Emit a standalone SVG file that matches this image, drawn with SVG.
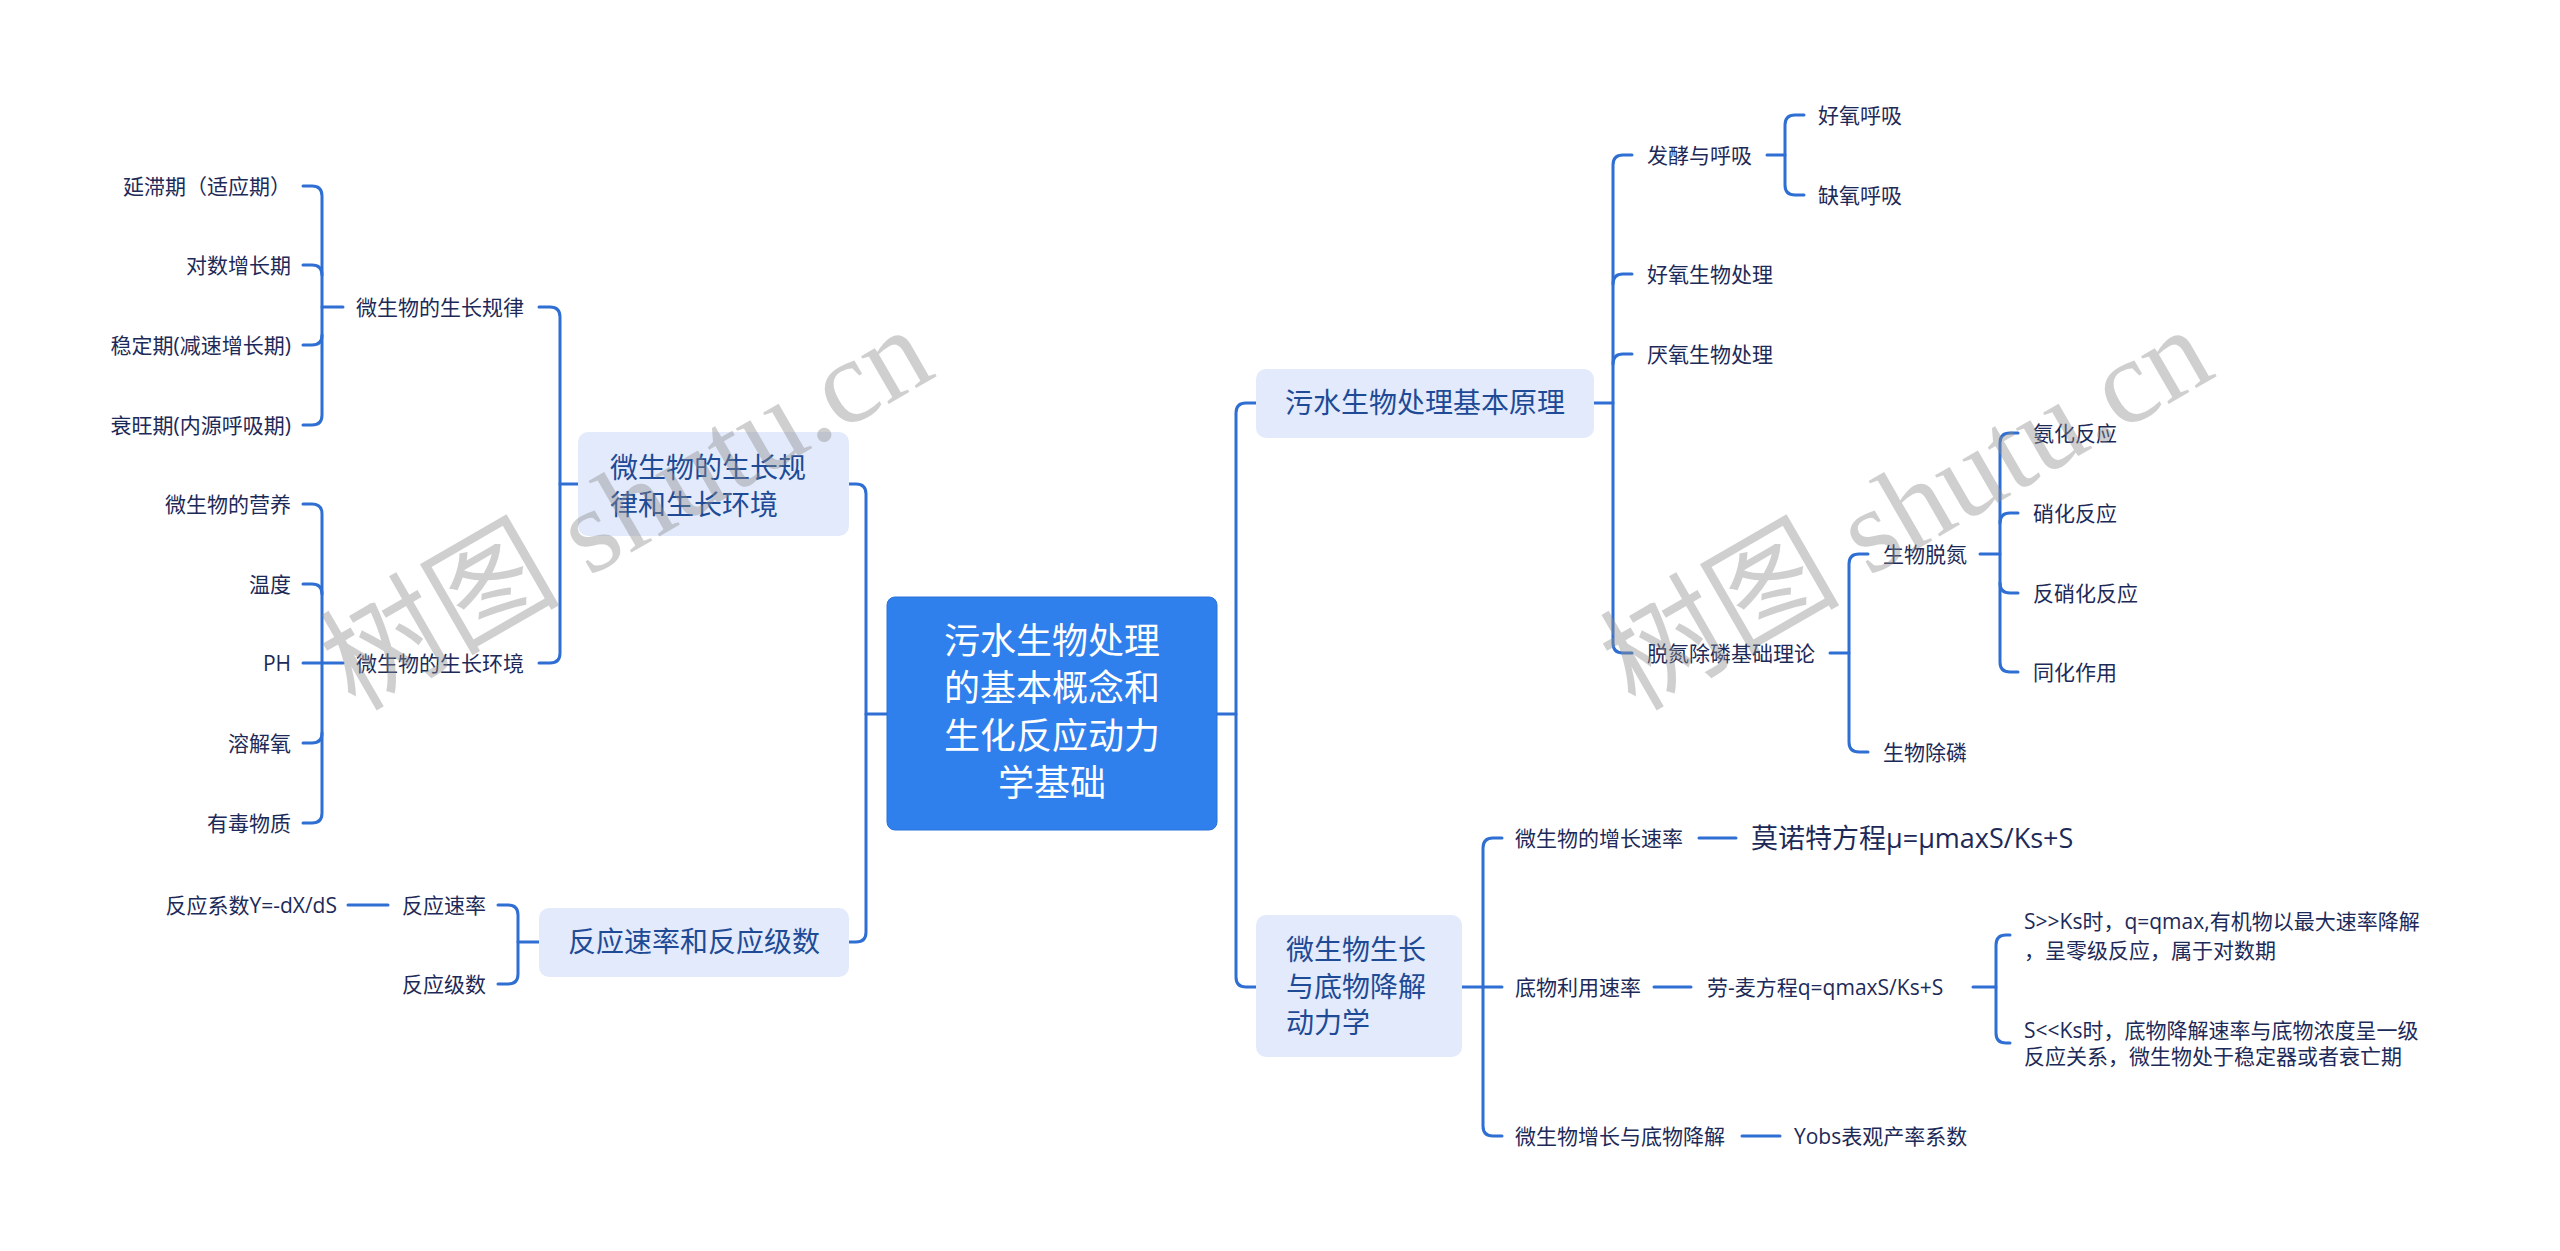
<svg xmlns="http://www.w3.org/2000/svg" width="2560" height="1251" viewBox="0 0 2560 1251">
<style>
.c{fill:none;stroke:#2F6FD3;stroke-width:3;stroke-linecap:round;stroke-linejoin:round}
text{font-family:"Open Sans","Noto Sans CJK SC",sans-serif}
.s{font-size:21px;fill:#1D2A58}
.n{font-size:28px;fill:#1E4A96}
.nr{fill:#E2EAFB}
.ct{font-size:36px;fill:#FFFFFF}
.wm{font-family:"Liberation Serif","Noto Sans CJK SC",serif;font-size:120px;fill:#8c8c8c;fill-opacity:0.42}
</style>
<rect width="2560" height="1251" fill="#FFFFFF"/>
<g id="connectors">
<path class="c" d="M887,714 H866"/>
<path class="c" d="M849,484 H856 Q866,484 866,494 V932 Q866,942 856,942 H849"/>
<path class="c" d="M578,484 H560"/>
<path class="c" d="M539,307 H550 Q560,307 560,317 V653 Q560,663 550,663 H539"/>
<path class="c" d="M343,307 H322"/>
<path class="c" d="M303,186 H312 Q322,186 322,196 V415 Q322,425 312,425 H303"/>
<path class="c" d="M303,265 H312 Q322,265 322,275"/>
<path class="c" d="M303,345 H312 Q322,345 322,335"/>
<path class="c" d="M303,504 H312 Q322,504 322,514 V813 Q322,823 312,823 H303"/>
<path class="c" d="M303,584 H312 Q322,584 322,594"/>
<path class="c" d="M303,663 H343"/>
<path class="c" d="M303,743 H312 Q322,743 322,733"/>
<path class="c" d="M539,942 H518"/>
<path class="c" d="M498,905 H508 Q518,905 518,915 V974 Q518,984 508,984 H498"/>
<path class="c" d="M348,905 H388"/>
<path class="c" d="M1217,714 H1236"/>
<path class="c" d="M1256,403 H1246 Q1236,403 1236,413 V977 Q1236,987 1246,987 H1256"/>
<path class="c" d="M1594,403 H1613"/>
<path class="c" d="M1632,155 H1623 Q1613,155 1613,165 V643 Q1613,653 1623,653 H1632"/>
<path class="c" d="M1632,274 H1623 Q1613,274 1613,284"/>
<path class="c" d="M1632,354 H1623 Q1613,354 1613,364"/>
<path class="c" d="M1767,155 H1785"/>
<path class="c" d="M1804,115 H1795 Q1785,115 1785,125 V185 Q1785,195 1795,195 H1804"/>
<path class="c" d="M1830,653 H1849"/>
<path class="c" d="M1868,554 H1859 Q1849,554 1849,564 V742 Q1849,752 1859,752 H1868"/>
<path class="c" d="M1980,554 H2000"/>
<path class="c" d="M2018,433 H2010 Q2000,433 2000,443 V662 Q2000,672 2010,672 H2018"/>
<path class="c" d="M2018,513 H2010 Q2000,513 2000,523"/>
<path class="c" d="M2018,593 H2010 Q2000,593 2000,583"/>
<path class="c" d="M1462,987 H1502"/>
<path class="c" d="M1502,838 H1493 Q1483,838 1483,848 V1126 Q1483,1136 1493,1136 H1502"/>
<path class="c" d="M1699,838 H1736"/>
<path class="c" d="M1654,987 H1691"/>
<path class="c" d="M1742,1136 H1780"/>
<path class="c" d="M1973,987 H1996"/>
<path class="c" d="M2010,935 H2006 Q1996,935 1996,945 V1033 Q1996,1043 2006,1043 H2010"/>
</g>
<g id="center">
<rect x="887" y="597" width="330" height="233" rx="8" fill="#2F80ED" stroke="#2B73D6" stroke-width="1"/>
<text class="ct" text-anchor="middle"><tspan x="1052" y="654">污水生物处理</tspan><tspan x="1052" y="701">的基本概念和</tspan><tspan x="1052" y="749">生化反应动力</tspan><tspan x="1052" y="796">学基础</tspan></text>
</g>
<g id="node-growth">
<rect class="nr" x="578" y="432" width="271" height="104" rx="10"/>
<text class="n"><tspan x="610" y="478">微生物的生长规</tspan><tspan x="610" y="515">律和生长环境</tspan></text>
</g>
<g id="node-law">
<text class="s" x="356" y="315">微生物的生长规律</text>
</g>
<g id="node-law-children">
<text class="s" text-anchor="end" x="291" y="194">延滞期（适应期）</text>
<text class="s" text-anchor="end" x="291" y="273">对数增长期</text>
<text class="s" text-anchor="end" x="291" y="353">稳定期(减速增长期)</text>
<text class="s" text-anchor="end" x="291" y="433">衰旺期(内源呼吸期)</text>
</g>
<g id="node-env">
<text class="s" x="356" y="671">微生物的生长环境</text>
</g>
<g id="node-env-children">
<text class="s" text-anchor="end" x="291" y="512">微生物的营养</text>
<text class="s" text-anchor="end" x="291" y="592">温度</text>
<text class="s" text-anchor="end" x="291" y="671">PH</text>
<text class="s" text-anchor="end" x="291" y="751">溶解氧</text>
<text class="s" text-anchor="end" x="291" y="831">有毒物质</text>
</g>
<g id="node-reaction">
<rect class="nr" x="539" y="908" width="310" height="69" rx="10"/>
<text class="n" text-anchor="middle" x="694" y="952">反应速率和反应级数</text>
</g>
<g id="node-rate">
<text class="s" x="402" y="913">反应速率</text>
<text class="s" text-anchor="end" x="337" y="913">反应系数Y=-dX/dS</text>
</g>
<g id="node-order">
<text class="s" x="402" y="992">反应级数</text>
</g>
<g id="node-principle">
<rect class="nr" x="1256" y="369" width="338" height="69" rx="10"/>
<text class="n" text-anchor="middle" x="1425" y="413">污水生物处理基本原理</text>
</g>
<g id="node-ferment">
<text class="s" x="1647" y="163">发酵与呼吸</text>
<text class="s" x="1818" y="123">好氧呼吸</text>
<text class="s" x="1818" y="203">缺氧呼吸</text>
</g>
<g id="node-aerobic">
<text class="s" x="1647" y="282">好氧生物处理</text>
</g>
<g id="node-anaerobic">
<text class="s" x="1647" y="362">厌氧生物处理</text>
</g>
<g id="node-np">
<text class="s" x="1647" y="661">脱氮除磷基础理论</text>
<text class="s" x="1883" y="562">生物脱氮</text>
<text class="s" x="1883" y="760">生物除磷</text>
<text class="s" x="2033" y="441">氨化反应</text>
<text class="s" x="2033" y="521">硝化反应</text>
<text class="s" x="2033" y="601">反硝化反应</text>
<text class="s" x="2033" y="680">同化作用</text>
</g>
<g id="node-kinetics">
<rect class="nr" x="1256" y="915" width="206" height="142" rx="10"/>
<text class="n"><tspan x="1286" y="960">微生物生长</tspan><tspan x="1286" y="997">与底物降解</tspan><tspan x="1286" y="1033">动力学</tspan></text>
</g>
<g id="node-growthrate">
<text class="s" x="1515" y="846">微生物的增长速率</text>
<text x="1751" y="848" style="font-size:27px;fill:#1D2A58">莫诺特方程μ=μmaxS/Ks+S</text>
</g>
<g id="node-substrate">
<text class="s" x="1515" y="995">底物利用速率</text>
<text class="s" x="1707" y="995">劳-麦方程q=qmaxS/Ks+S</text>
<text class="s"><tspan x="2024" y="929">S&gt;&gt;Ks时，q=qmax,有机物以最大速率降解</tspan><tspan x="2024" y="958">，呈零级反应，属于对数期</tspan></text>
<text class="s"><tspan x="2024" y="1038">S&lt;&lt;Ks时，底物降解速率与底物浓度呈一级</tspan><tspan x="2024" y="1064">反应关系，微生物处于稳定器或者衰亡期</tspan></text>
</g>
<g id="node-yield">
<text class="s" x="1515" y="1144">微生物增长与底物降解</text>
<text class="s" x="1794" y="1144">Yobs表观产率系数</text>
</g>
<g id="watermarks">
<text class="wm" x="355" y="712" transform="rotate(-30 355 712)">树图 shutu.cn</text>
<text class="wm" x="1635" y="712" transform="rotate(-30 1635 712)">树图 shutu.cn</text>
</g>
</svg>
